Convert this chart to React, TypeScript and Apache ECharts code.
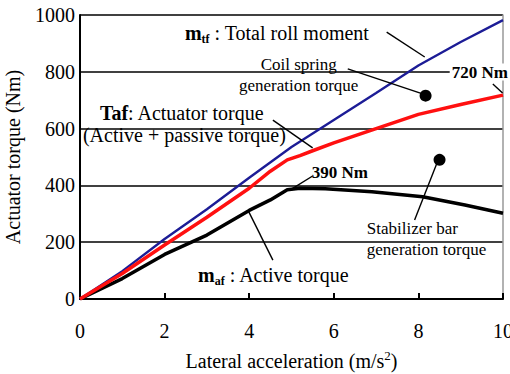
import React, { useEffect, useRef } from "react";
import * as echarts from "echarts";

const SERIF = "Liberation Serif, Times New Roman, serif";

// m_tf : Total roll moment
const totalX = [0, 1, 2, 3, 4, 5, 6, 7, 8, 9, 10];
const totalRoll = [0, 98, 211, 316, 427, 535, 630, 725, 822, 905, 982];
// Taf : Actuator torque
const actX = [0, 1, 2, 3, 4, 4.5, 4.9, 5.2, 5.5, 6, 7, 8, 9, 10];
const actuatorTorque = [0, 90, 190, 288, 390, 450, 490, 505, 522, 550, 600, 650, 685, 718];
// m_af : Active torque
const actvX = [0, 1, 2, 3, 4, 4.5, 4.9, 5.2, 5.8, 6.9, 8.1, 9.1, 10];
const activeTorque = [0, 72, 157, 225, 312, 349, 385, 390, 388, 378, 360, 331, 302];

// annotations (data coordinates)
const leaderLines = [
  [[7.25, 940], [8.15, 852]],
  [[6.33, 810], [8.1, 722]],
  [[9.76, 757], [9.99, 725]],
  [[4.56, 630], [5.5, 532]],
  [[5.5, 433], [5.0, 387]],
  [[7.91, 278], [8.43, 475]],
  [[4.56, 137], [3.97, 313]],
];
const dots = [[8.17, 716], [8.5, 490]];
const labels = [
  { x: 2.48, y: 937, text: "{b|m}{s|tf}{n| : Total roll moment}", align: "left" },
  { x: 5.17, y: 826, text: "{m|Coil spring}", align: "center" },
  { x: 5.17, y: 752, text: "{m|generation torque}", align: "center" },
  { x: 8.74, y: 799, text: "{w|720 Nm}", align: "left" },
  { x: 0.47, y: 655, text: "{b|Taf}{n|: Actuator torque}", align: "left" },
  { x: 0.07, y: 577, text: "{n|(Active + passive torque)}", align: "left" },
  { x: 5.48, y: 444, text: "{bb|390 Nm}", align: "left" },
  { x: 6.78, y: 250, text: "{m|Stabilizer bar}", align: "left" },
  { x: 6.78, y: 174, text: "{m|generation torque}", align: "left" },
  { x: 2.79, y: 85, text: "{b|m}{s|af}{n| : Active torque}", align: "left" },
];

const rich = {
  n: { fontFamily: SERIF, fontSize: 20, color: "#000", lineHeight: 24 },
  b: { fontFamily: SERIF, fontSize: 20, fontWeight: "bold", color: "#000", lineHeight: 24 },
  s: { fontFamily: SERIF, fontSize: 12, fontWeight: "bold", color: "#000", lineHeight: 24, verticalAlign: "bottom", padding: [6, 0, 0, 0] },
  m: { fontFamily: SERIF, fontSize: 17, color: "#000", lineHeight: 20 },
  bb: { fontFamily: SERIF, fontSize: 17, fontWeight: "bold", color: "#000", lineHeight: 20 },
  w: { fontFamily: SERIF, fontSize: 17, fontWeight: "bold", color: "#000", lineHeight: 20, backgroundColor: "#fff", padding: [0, 2, 0, 2] },
};

export default function App() {
  const ref = useRef<HTMLDivElement>(null);
  useEffect(() => {
    if (!ref.current) return;
    const chart = echarts.init(ref.current, null, { renderer: "svg" });
    const pair = (xs: number[], ys: number[]) => xs.map((x, i) => [x, ys[i]]);
    chart.setOption({
      animation: false,
      backgroundColor: "#fff",
      grid: { left: 80, right: 7, top: 15, bottom: 75, containLabel: false, outerBoundsMode: "none" },
      xAxis: {
        type: "value",
        min: 0,
        max: 10,
        interval: 2,
        name: "{n|Lateral acceleration (m/s}{sup|2}{n|)}",
        nameLocation: "middle",
        nameGap: 50,
        nameTextStyle: {
          rich: {
            n: { fontFamily: SERIF, fontSize: 20, color: "#000", lineHeight: 24 },
            sup: { fontFamily: SERIF, fontSize: 13, color: "#000", lineHeight: 24, verticalAlign: "top", padding: [0, 0, 8, 0] },
          },
        },
        axisLine: { show: true, lineStyle: { color: "#000", width: 2 } },
        axisTick: { show: true, inside: true, length: 6, lineStyle: { color: "#000", width: 2 } },
        axisLabel: { fontFamily: SERIF, fontSize: 20, color: "#000", margin: 22 },
        splitLine: { show: false },
      },
      yAxis: [
        {
          type: "value",
          min: 0,
          max: 1000,
          interval: 200,
          name: "Actuator torque (Nm)",
          nameLocation: "middle",
          nameGap: 57,
          nameTextStyle: { fontFamily: SERIF, fontSize: 20, color: "#000" },
          axisLine: { show: true, lineStyle: { color: "#000", width: 2 } },
          axisTick: { show: false },
          axisLabel: { fontFamily: SERIF, fontSize: 20, color: "#000", margin: 5, formatter: (v: number) => String(v) },
          splitLine: { show: true, lineStyle: { color: "#000", width: 1.5 } },
        },
        {
          type: "value",
          min: 0,
          max: 1000,
          interval: 200,
          position: "right",
          axisLine: { show: true, lineStyle: { color: "#999", width: 1.5 } },
          axisTick: { show: false },
          axisLabel: { show: false },
          splitLine: { show: false },
        },
      ],
      series: [
        {
          name: "Total roll moment",
          type: "line",
          data: pair(totalX, totalRoll),
          showSymbol: false,
          lineStyle: { color: "#1c1c96", width: 2.4 },
          z: 3,
        },
        {
          name: "Actuator torque",
          type: "line",
          data: pair(actX, actuatorTorque),
          showSymbol: false,
          lineStyle: { color: "#ff1010", width: 3.5 },
          z: 4,
        },
        {
          name: "Active torque",
          type: "line",
          data: pair(actvX, activeTorque),
          showSymbol: false,
          lineStyle: { color: "#000", width: 3.5 },
          z: 2,
        },
      ],
    });

    const p = (x: number, y: number) =>
      chart.convertToPixel({ xAxisIndex: 0, yAxisIndex: 0 }, [x, y]) as number[];

    const graphic: any[] = [];
    leaderLines.forEach(([a, b]) => {
      const pa = p(a[0], a[1]);
      const pb = p(b[0], b[1]);
      graphic.push({
        type: "line",
        shape: { x1: pa[0], y1: pa[1], x2: pb[0], y2: pb[1] },
        style: { stroke: "#000", lineWidth: 1.4 },
        z: 10,
      });
    });
    dots.forEach(([x, y]) => {
      const c = p(x, y);
      graphic.push({ type: "circle", shape: { cx: c[0], cy: c[1], r: 6 }, style: { fill: "#000" }, z: 10 });
    });
    labels.forEach((l) => {
      const c = p(l.x, l.y);
      graphic.push({
        type: "text",
        x: c[0],
        y: c[1],
        style: { text: l.text, rich, align: l.align, verticalAlign: "middle" },
        z: 11,
      });
    });
    chart.setOption({ graphic });

    return () => chart.dispose();
  }, []);
  return <div ref={ref} style={{ position: "fixed", left: 0, top: 0, width: 510, height: 374 }} />;
}
